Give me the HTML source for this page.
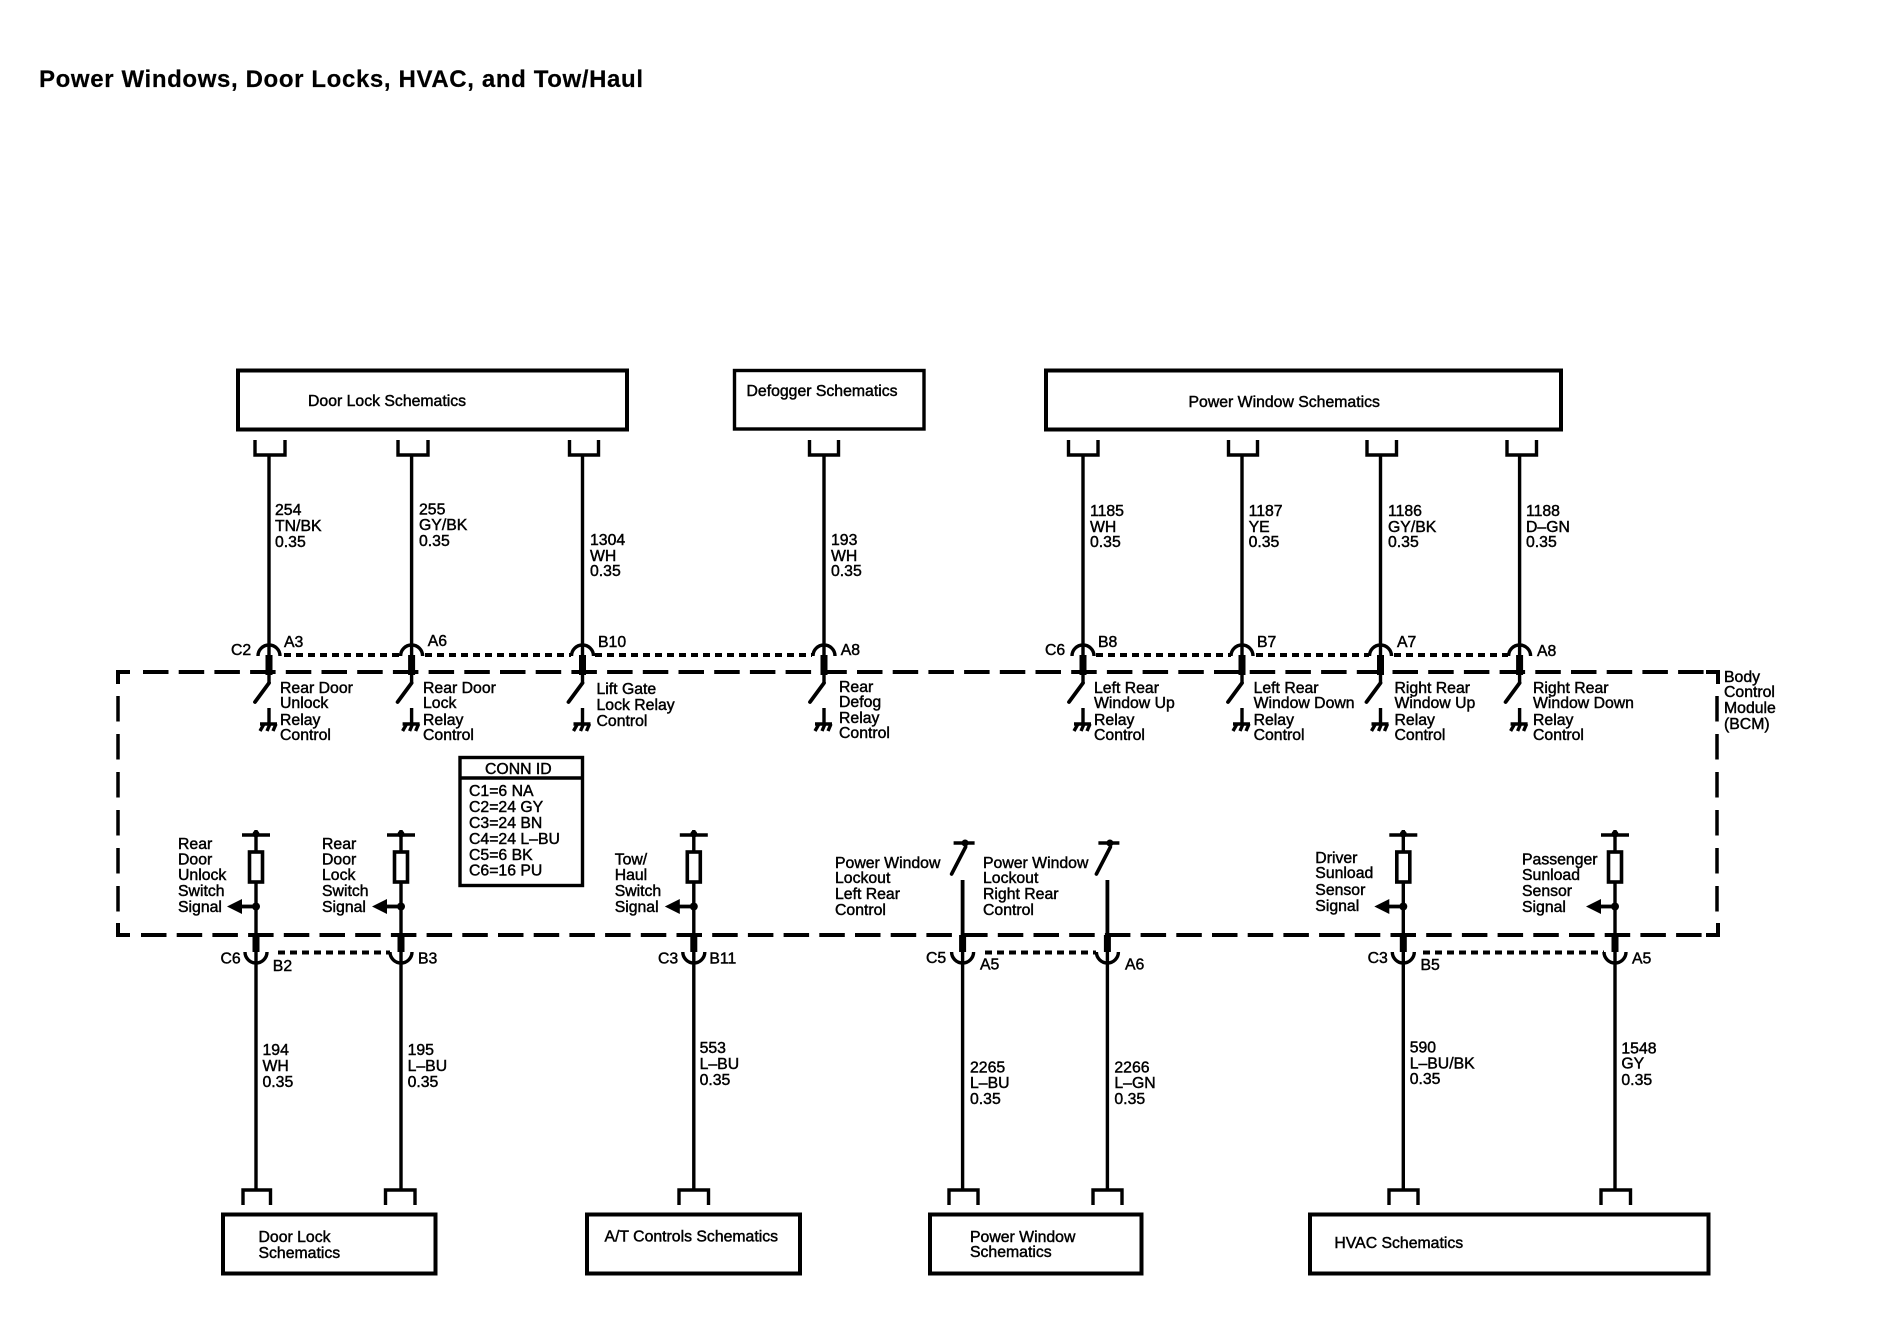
<!DOCTYPE html>
<html>
<head>
<meta charset="utf-8">
<title>Power Windows, Door Locks, HVAC, and Tow/Haul</title>
<style>
html,body{margin:0;padding:0;background:#fff;width:1880px;height:1328px;overflow:hidden}
svg{display:block}
text{font-family:"Liberation Sans",Arial,sans-serif;font-size:15.8px;fill:#000;stroke:#000;stroke-width:.45}
.l{fill:none;stroke:#000;stroke-width:3.4}
.b{fill:none;stroke:#000;stroke-width:4}
.d{fill:none;stroke:#000;stroke-width:4;stroke-dasharray:7 5}
.h{fill:none;stroke:#000;stroke-width:4;stroke-dasharray:25.5 10.2}
.v{fill:none;stroke:#000;stroke-width:3.5;stroke-dasharray:25.5 12.5}
</style>
</head>
<body>
<svg width="1880" height="1328" viewBox="0 0 1880 1328" xmlns="http://www.w3.org/2000/svg">
<defs>
<g id="top">
  <path class="l" d="M0,456V683"/>
  <path class="l" d="M-11,656A11,11 0 0 1 11,656"/>
  <rect x="-3.5" y="655" width="7" height="20"/>
  <path class="l" stroke-linecap="round" style="stroke-width:3.8" d="M0,683L-14,702"/>
  <path class="l" d="M0,708V724M-9,724H8"/>
  <path class="l" d="M-5,724L-9,731M1,724L-2,731M7,724L4,731"/>
</g>
<g id="bot">
  <rect x="-3.5" y="935" width="7" height="17"/>
  <path class="l" d="M-11,952A11,11 0 0 0 11,952"/>
  <path class="l" d="M0,935V1190"/>
</g>
<g id="sen">
  <path class="l" d="M0,830V936"/>
  <path class="l" d="M-14,835H14"/>
  <circle cx="0" cy="834" r="3.5"/>
  <rect x="-6.5" y="852" width="13" height="30" fill="#fff" stroke="#000" stroke-width="3.6"/>
  <circle cx="0" cy="906.5" r="4"/>
  <path class="l" style="stroke-width:3.8" d="M0,906.5H-16"/>
  <path d="M-14,899V914L-29,906.5Z"/>
</g>
<g id="lock">
  <path class="l" style="stroke-width:3.8" d="M0,880V936"/>
  <path class="l" d="M-9,843H12"/>
  <circle cx="2.5" cy="843" r="3.5"/>
  <path class="l" stroke-linecap="round" style="stroke-width:3.6" d="M3,847L-11,874"/>
</g>
</defs>

<text x="39" y="87" style="font-size:24px;font-weight:bold;stroke-width:.2" textLength="604" lengthAdjust="spacing">Power Windows, Door Locks, HVAC, and Tow/Haul</text>

<!-- top boxes -->
<rect class="b" x="238" y="370.5" width="389" height="59"/>
<text x="308" y="406">Door Lock Schematics</text>
<rect class="l" x="734.5" y="370.5" width="189.5" height="58.5"/>
<text x="746.5" y="396">Defogger Schematics</text>
<rect class="b" x="1046" y="370.5" width="515" height="59"/>
<text x="1188.5" y="407">Power Window Schematics</text>

<!-- top brackets -->
<path class="l" d="M255,440V455H285V440M398,440V455H428V440M569.5,440V455H598.5V440M809.5,440V455H838.5V440M1068.5,440V455H1098V440M1228.5,440V455H1257.5V440M1367,440V455H1396.5V440M1507,440V455H1536.5V440"/>

<!-- top connectors -->
<use href="#top" x="269"/>
<use href="#top" x="411.6"/>
<use href="#top" x="582.5"/>
<use href="#top" x="824"/>
<use href="#top" x="1083"/>
<use href="#top" x="1242"/>
<use href="#top" x="1380.5"/>
<use href="#top" x="1519.6"/>

<!-- dotted connector lines -->
<path class="d" d="M284,655H401M425,655H571M595,655H812M1096,655H1231M1256,655H1369M1394,655H1508"/>
<path class="d" d="M278,952.5H390M985,952.5H1096M1423,952.5H1604"/>

<!-- BCM dashed outline -->
<path class="h" d="M143,672H1706"/>
<path class="h" d="M141,935H1706"/>
<path class="v" d="M118,696V923"/>
<path class="v" d="M1717,696V923"/>
<path class="b" d="M118,684V672H130M1706,672H1718V684M118,923V935H130M1706,935H1718V923"/>

<!-- top wire labels -->
<text x="275" y="515">254</text><text x="275" y="531">TN/BK</text><text x="275" y="547">0.35</text>
<text x="419" y="514.5">255</text><text x="419" y="530">GY/BK</text><text x="419" y="546">0.35</text>
<text x="590" y="545">1304</text><text x="590" y="561">WH</text><text x="590" y="576">0.35</text>
<text x="831" y="545">193</text><text x="831" y="561">WH</text><text x="831" y="576">0.35</text>
<text x="1090" y="516">1185</text><text x="1090" y="532">WH</text><text x="1090" y="547">0.35</text>
<text x="1248.6" y="516">1187</text><text x="1248.6" y="532">YE</text><text x="1248.6" y="547">0.35</text>
<text x="1388" y="516">1186</text><text x="1388" y="532">GY/BK</text><text x="1388" y="547">0.35</text>
<text x="1526" y="516">1188</text><text x="1526" y="532">D–GN</text><text x="1526" y="547">0.35</text>

<!-- top pin labels -->
<text x="231" y="655">C2</text><text x="284" y="647">A3</text>
<text x="427.7" y="646">A6</text>
<text x="598" y="647">B10</text>
<text x="840.7" y="655">A8</text>
<text x="1045" y="655">C6</text><text x="1098" y="647">B8</text>
<text x="1257" y="647">B7</text>
<text x="1397" y="647">A7</text>
<text x="1537" y="656">A8</text>

<!-- inner relay labels -->
<text x="280" y="693">Rear Door</text><text x="280" y="708">Unlock</text><text x="280" y="725">Relay</text><text x="280" y="740">Control</text>
<text x="423" y="693">Rear Door</text><text x="423" y="708">Lock</text><text x="423" y="725">Relay</text><text x="423" y="740">Control</text>
<text x="596.5" y="694">Lift Gate</text><text x="596.5" y="710">Lock Relay</text><text x="596.5" y="726">Control</text>
<text x="839" y="692">Rear</text><text x="839" y="707">Defog</text><text x="839" y="723">Relay</text><text x="839" y="738">Control</text>
<text x="1094" y="693">Left Rear</text><text x="1094" y="708">Window Up</text><text x="1094" y="725">Relay</text><text x="1094" y="740">Control</text>
<text x="1253.6" y="693">Left Rear</text><text x="1253.6" y="708">Window Down</text><text x="1253.6" y="725">Relay</text><text x="1253.6" y="740">Control</text>
<text x="1394.5" y="693">Right Rear</text><text x="1394.5" y="708">Window Up</text><text x="1394.5" y="725">Relay</text><text x="1394.5" y="740">Control</text>
<text x="1533" y="693">Right Rear</text><text x="1533" y="708">Window Down</text><text x="1533" y="725">Relay</text><text x="1533" y="740">Control</text>

<!-- BCM label -->
<text x="1724" y="682">Body</text><text x="1724" y="697">Control</text><text x="1724" y="713">Module</text><text x="1724" y="729">(BCM)</text>

<!-- CONN ID -->
<rect class="l" x="460" y="757.5" width="122.5" height="128"/>
<path class="l" d="M460,778H582.5"/>
<text x="485" y="774">CONN ID</text>
<text x="469" y="796">C1=6 NA</text>
<text x="469" y="812">C2=24 GY</text>
<text x="469" y="828">C3=24 BN</text>
<text x="469" y="844">C4=24 L–BU</text>
<text x="469" y="860">C5=6 BK</text>
<text x="469" y="875.5">C6=16 PU</text>

<!-- bottom connectors -->
<use href="#bot" x="256"/><use href="#sen" x="256"/>
<use href="#bot" x="401"/><use href="#sen" x="401"/>
<use href="#bot" x="693.8"/><use href="#sen" x="693.8"/>
<use href="#bot" x="962.6"/><use href="#lock" x="962.6"/>
<use href="#bot" x="1107.4"/><use href="#lock" x="1107.4"/>
<use href="#bot" x="1403.3"/><use href="#sen" x="1403.3"/>
<use href="#bot" x="1615"/><use href="#sen" x="1615"/>

<!-- bottom brackets -->
<path class="l" d="M243,1205V1190H270.5V1205M385.5,1205V1190H415V1205M679,1205V1190H708.5V1205M949,1205V1190H978V1205M1093,1205V1190H1122V1205M1389,1205V1190H1418V1205M1601,1205V1190H1630.5V1205"/>

<!-- signal labels -->
<text x="178" y="849">Rear</text><text x="178" y="864.5">Door</text><text x="178" y="880">Unlock</text><text x="178" y="896">Switch</text><text x="178" y="912">Signal</text>
<text x="322" y="849">Rear</text><text x="322" y="864.5">Door</text><text x="322" y="880">Lock</text><text x="322" y="896">Switch</text><text x="322" y="912">Signal</text>
<text x="614.7" y="864.5">Tow/</text><text x="614.7" y="880">Haul</text><text x="614.7" y="896">Switch</text><text x="614.7" y="912">Signal</text>
<text x="835" y="868">Power Window</text><text x="835" y="883">Lockout</text><text x="835" y="899">Left Rear</text><text x="835" y="915">Control</text>
<text x="983" y="868">Power Window</text><text x="983" y="883">Lockout</text><text x="983" y="899">Right Rear</text><text x="983" y="915">Control</text>
<text x="1315.3" y="863">Driver</text><text x="1315.3" y="878">Sunload</text><text x="1315.3" y="895">Sensor</text><text x="1315.3" y="911">Signal</text>
<text x="1522" y="864.5">Passenger</text><text x="1522" y="880">Sunload</text><text x="1522" y="896">Sensor</text><text x="1522" y="912">Signal</text>

<!-- bottom pin labels -->
<text x="220.5" y="963.5">C6</text><text x="272.8" y="971">B2</text>
<text x="418" y="963.5">B3</text>
<text x="658" y="963.5">C3</text><text x="709.4" y="963.5">B11</text>
<text x="926" y="963">C5</text><text x="980" y="969.5">A5</text>
<text x="1125" y="969.5">A6</text>
<text x="1367.6" y="963">C3</text><text x="1420.5" y="970">B5</text>
<text x="1632" y="963.5">A5</text>

<!-- bottom wire labels -->
<text x="262.5" y="1055">194</text><text x="262.5" y="1071">WH</text><text x="262.5" y="1087">0.35</text>
<text x="407.6" y="1055">195</text><text x="407.6" y="1071">L–BU</text><text x="407.6" y="1087">0.35</text>
<text x="699.6" y="1053">553</text><text x="699.6" y="1069">L–BU</text><text x="699.6" y="1085">0.35</text>
<text x="970" y="1072.5">2265</text><text x="970" y="1088">L–BU</text><text x="970" y="1104">0.35</text>
<text x="1114.4" y="1072.5">2266</text><text x="1114.4" y="1088">L–GN</text><text x="1114.4" y="1104">0.35</text>
<text x="1409.7" y="1052.5">590</text><text x="1409.7" y="1068.5">L–BU/BK</text><text x="1409.7" y="1084">0.35</text>
<text x="1621.4" y="1053.5">1548</text><text x="1621.4" y="1068.5">GY</text><text x="1621.4" y="1085">0.35</text>

<!-- bottom boxes -->
<rect class="b" x="223" y="1214.5" width="212.5" height="59"/>
<text x="258.5" y="1242">Door Lock</text><text x="258.5" y="1258">Schematics</text>
<rect class="b" x="587" y="1214.5" width="213" height="59"/>
<text x="604.5" y="1241.5">A/T Controls Schematics</text>
<rect class="b" x="930" y="1214.5" width="211.5" height="59"/>
<text x="970" y="1242">Power Window</text><text x="970" y="1257">Schematics</text>
<rect class="b" x="1310" y="1214.5" width="398.5" height="59"/>
<text x="1334.4" y="1248">HVAC Schematics</text>
</svg>
</body>
</html>
